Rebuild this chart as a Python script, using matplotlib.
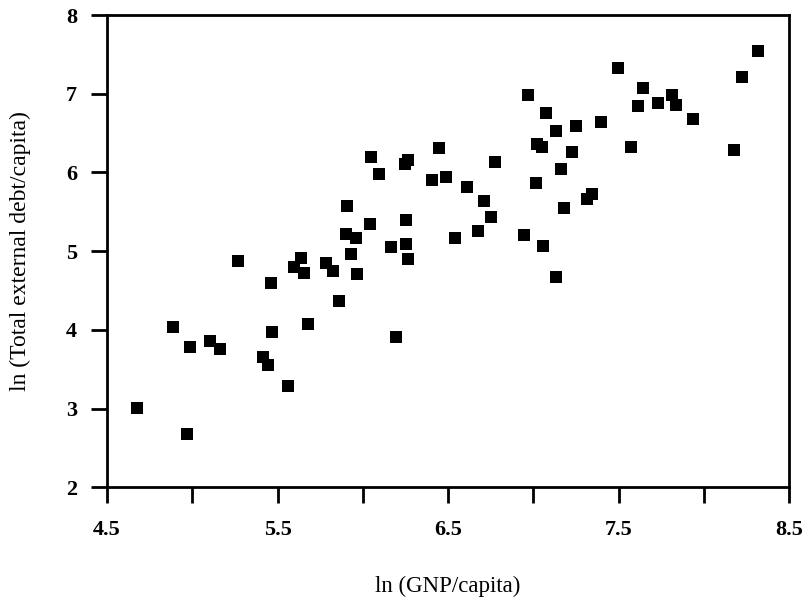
import matplotlib
matplotlib.use("Agg")
import matplotlib.pyplot as plt
from matplotlib.ticker import FixedLocator

# ln(GNP/capita) vs ln(total external debt/capita)
gnp = [4.678, 4.889, 4.987, 4.971, 5.104, 5.163, 5.268, 5.413, 5.446, 5.460,
       5.466, 5.560, 5.597, 5.636, 5.657, 5.679, 5.784, 5.826, 5.859, 5.900,
       5.906, 5.931, 5.960, 5.968, 6.043, 6.047, 6.095, 6.164, 6.195, 6.248,
       6.265, 6.254, 6.252, 6.267, 6.404, 6.447, 6.488, 6.541, 6.610, 6.674,
       6.711, 6.752, 6.776, 6.946, 6.971, 7.016, 7.024, 7.053, 7.055, 7.073,
       7.132, 7.132, 7.161, 7.182, 7.226, 7.249, 7.317, 7.346, 7.396, 7.495,
       7.573, 7.616, 7.646, 7.730, 7.816, 7.837, 7.939, 8.177, 8.223, 8.320]
debt = [3.013, 4.042, 3.780, 2.676, 3.864, 3.759, 4.880, 3.653, 3.556, 4.601,
        3.971, 3.293, 4.796, 4.910, 4.728, 4.076, 4.855, 4.753, 4.368, 5.215,
        5.578, 4.965, 5.168, 4.711, 5.346, 6.201, 5.981, 5.048, 3.915, 6.108,
        6.159, 5.092, 5.397, 4.898, 5.905, 6.311, 5.947, 5.164, 5.820, 5.257,
        5.638, 5.439, 6.130, 5.206, 6.984, 5.863, 6.362, 6.320, 5.070, 6.759,
        6.531, 4.677, 6.044, 5.545, 6.257, 6.590, 5.663, 5.723, 6.638, 7.323,
        6.320, 6.848, 7.069, 6.886, 6.984, 6.857, 6.679, 6.290, 7.217, 7.547]

x_major = [4.5, 5.5, 6.5, 7.5, 8.5]
x_minor = [5.0, 6.0, 7.0, 8.0]
y_ticks = [2, 3, 4, 5, 6, 7, 8]

plt.rcParams['font.family'] = ['Liberation Serif', 'DejaVu Serif']

fig = plt.figure(figsize=(8.09, 6.05), dpi=100)
ax = fig.add_axes([0.1323, 0.1945, 0.8430, 0.7807])

ax.plot(gnp, debt, "s", color="black", markersize=8.7, markeredgewidth=0)

ax.set_xlim(4.5, 8.5)
ax.set_ylim(2, 8)
ax.xaxis.set_major_locator(FixedLocator(x_major))
ax.xaxis.set_minor_locator(FixedLocator(x_minor))
ax.set_yticks(y_ticks)
ax.set_xticklabels([str(v) for v in x_major], fontweight="bold", fontsize=16)
ax.set_yticklabels([str(v) for v in y_ticks], fontweight="bold", fontsize=16)

for s in ax.spines.values():
    s.set_linewidth(2)
ax.tick_params(which="both", direction="out", length=11.5, width=2)
ax.tick_params(axis="x", which="both", pad=12)
ax.tick_params(axis="y", pad=10)

ax.set_xlabel("ln (GNP/capita)", fontsize=16.5, labelpad=26)
ax.set_ylabel("ln (Total external debt/capita)", fontsize=17, labelpad=25)

fig.savefig("out.png", dpi=100)
